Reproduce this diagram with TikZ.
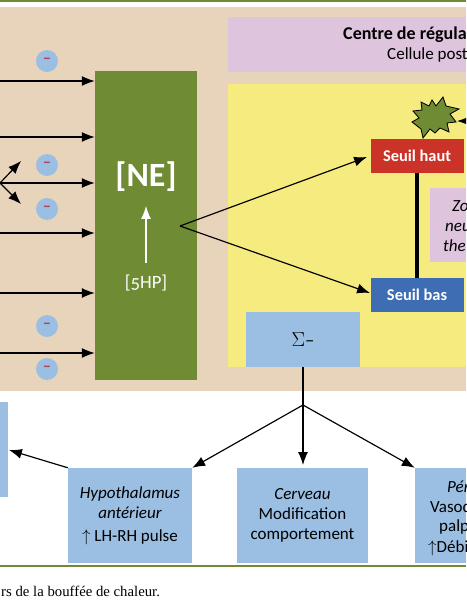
\documentclass[tikz,border=0pt]{standalone}
\usepackage{fontspec}
\setmainfont{Carlito}
\newfontfamily\capfont{Liberation Serif}
\usetikzlibrary{arrows.meta}
\definecolor{hf-peach}{RGB}{232,211,187}
\definecolor{hf-pink}{RGB}{222,196,221}
\definecolor{hf-yellow}{RGB}{246,235,127}
\definecolor{hf-green}{RGB}{111,139,51}
\definecolor{hf-red}{RGB}{204,51,40}
\definecolor{hf-blue}{RGB}{63,109,179}
\definecolor{hf-sky}{RGB}{154,191,226}
\definecolor{hf-minus}{RGB}{176,64,95}
\tikzset{
  pane/.style n args={3}{fill=#3, minimum width=#1*0.03cm, minimum height=#2*0.03cm, inner sep=0pt, align=center},
  minus/.style={circle, fill=hf-sky, minimum size=22*0.03cm, inner sep=0pt, text=hf-minus, font=\fontsize{14}{14}\selectfont\bfseries},
  piece/.style={anchor=base west, inner sep=0pt, font=\fontsize{14.5}{17}\selectfont},
  slant/.style={piece, font=\fontsize{14.5}{17}\selectfont\itshape},
  boxtext/.style={font=\fontsize{14.5}{17}\selectfont},
  seuil/.style={text=white, font=\fontsize{14}{16}\selectfont\bfseries},
  link/.style={-{Latex[length=11pt,width=8.5pt]}, line width=1pt}
}

\begin{document}
\begin{tikzpicture}[x=0.03cm, y=-0.03cm]

\clip (0,0) rectangle (466,600);
\fill[white] (0,0) rectangle (466,600);

% Rules
\node[pane={466}{2.5}{hf-green}] (toprule) at (233,1.2) {};
\node[pane={466}{2}{hf-green}] (botrule) at (233,566) {};

% Backgrounds
\node[pane={466}{384}{hf-peach}] (back) at (233,199) {};
\node[pane={238}{55}{hf-pink}] (titlebox) at (347,44.5) {};
\node[pane={238}{283}{hf-yellow}] (centre) at (347,225.5) {};

% Title
\node[piece, font=\fontsize{15.4}{17}\selectfont\bfseries] (titleA) at (343,40) {Centre de régula};
\node[piece] (titleB) at (387,60) {Cellule post};

% NE block
\node[pane={102}{309}{hf-green}] (ne) at (146,225.5) {};
\node[text=white, font=\fontsize{29}{32}\selectfont\bfseries, inner sep=0pt] (nelabel) at (146,177) {[NE]};
\node[text=white, font=\fontsize{16}{18}\selectfont, inner sep=0pt] (hp) at (146,283) {[\addfontfeature{Numbers=OldStyle}5HP]};
\coordinate (hpbase) at (146,263);
\coordinate (netop) at (146,206);
\draw[-{Latex[length=11pt,width=8.5pt]}, white, line width=1pt] (hpbase) -- (netop);

% Inputs
\coordinate (inA) at (0,81);
\coordinate (inB) at (0,137);
\coordinate (inC) at (0,183);
\coordinate (inD) at (0,233);
\coordinate (inE) at (0,293);
\coordinate (inF) at (0,353);
\draw[link] (inA) -- (inA -| ne.west);
\draw[link] (inB) -- (inB -| ne.west);
\draw[link] (inC) -- (inC -| ne.west);
\draw[link] (inD) -- (inD -| ne.west);
\draw[link] (inE) -- (inE -| ne.west);
\draw[link] (inF) -- (inF -| ne.west);

% Branches
\coordinate (upleft) at (21,161);
\coordinate (downleft) at (21,204);
\draw[link] (inC) -- (upleft);
\draw[link] (inC) -- (downleft);

% Inhibitions
\node[minus] (minA) at (47,61)  {--};
\node[minus] (minB) at (47,165) {--};
\node[minus] (minC) at (47,209) {--};
\node[minus] (minD) at (47,326) {--};
\node[minus] (minE) at (47,369) {--};

% Thresholds
\node[pane={93}{34}{hf-red}, seuil] (haut) at (417,156) {Seuil haut};
\node[pane={93}{34}{hf-blue}, seuil] (bas) at (417,295) {Seuil bas};
\draw[line width=2.8pt] (haut) -- (bas);
\coordinate (nefork) at (180,226);
\coordinate (hauttip) at (367,157);
\coordinate (bastip) at (370,293);
\draw[link] (nefork) -- (hauttip);
\draw[link] (nefork) -- (bastip);

% Burst
\filldraw[fill=hf-green, draw=black, line width=0.7pt]
    (443,97) -- (446,106) -- (459,109) -- (450,114) -- (456,122)
    -- (447,123) -- (449,132) -- (440,128) -- (435,133) -- (430,129)
    -- (423,138) -- (421,129) -- (412,122) -- (419,118) -- (413,111)
    -- (422,110) -- (421,102) -- (429,106) -- (432,100) -- (436,106) -- cycle;
\coordinate (burstin) at (470,121);
\coordinate (bursttip) at (457,121);
\draw[link] (burstin) -- (bursttip);

% Neutral zone
\node[pane={36}{74}{hf-pink}] (zone) at (448,225) {};
\node[slant] (zoneA) at (452,212) {Zo};
\node[slant] (zoneB) at (445,231) {neu};
\node[slant] (zoneC) at (443,251) {the};

% Sum
\node[pane={114}{55}{hf-sky}, font=\fontsize{16}{18}\selectfont] (sum) at (303,339.5) {$\Sigma$--};
\coordinate (fork) at (303,405);
\draw[line width=1pt] (sum) -- (fork);

% Lower boxes
\node[pane={8}{95}{hf-sky}] (leftbox) at (4,449.5) {};
\node[pane={124}{95}{hf-sky}, boxtext] (hypo) at (130,515.5) {\textit{Hypothalamus}\\\textit{antérieur}\\[3pt]$\uparrow$ LH-RH pulse};
\node[pane={131}{95}{hf-sky}, boxtext] (cerveau) at (302.5,515.5) {\textit{Cerveau}\\Modification\\comportement};
\node[pane={51}{95}{hf-sky}] (peri) at (440.5,515.5) {};
\node[slant] (periA) at (447,492) {Pér};
\node[piece] (periB) at (430,512) {Vasod};
\node[piece] (periC) at (439,531) {palp};
\node[piece] (periD) at (428,552) {$\uparrow$Débi};

% Outputs
\coordinate (cerveautip) at (303,465);
\draw[link] (fork) -- (hypo.north east);
\draw[link] (fork) -- (cerveautip);
\draw[link] (fork) -- (peri.north west);
\coordinate (lefttip) at (9,450);
\draw[link] (hypo.north west) -- (lefttip);

% Caption
\node[anchor=base west, inner sep=0pt, font=\capfont\fontsize{12.6}{14}\selectfont] (caption) at (1,596) {rs de la bouffée de chaleur.};

\end{tikzpicture}
\end{document}
